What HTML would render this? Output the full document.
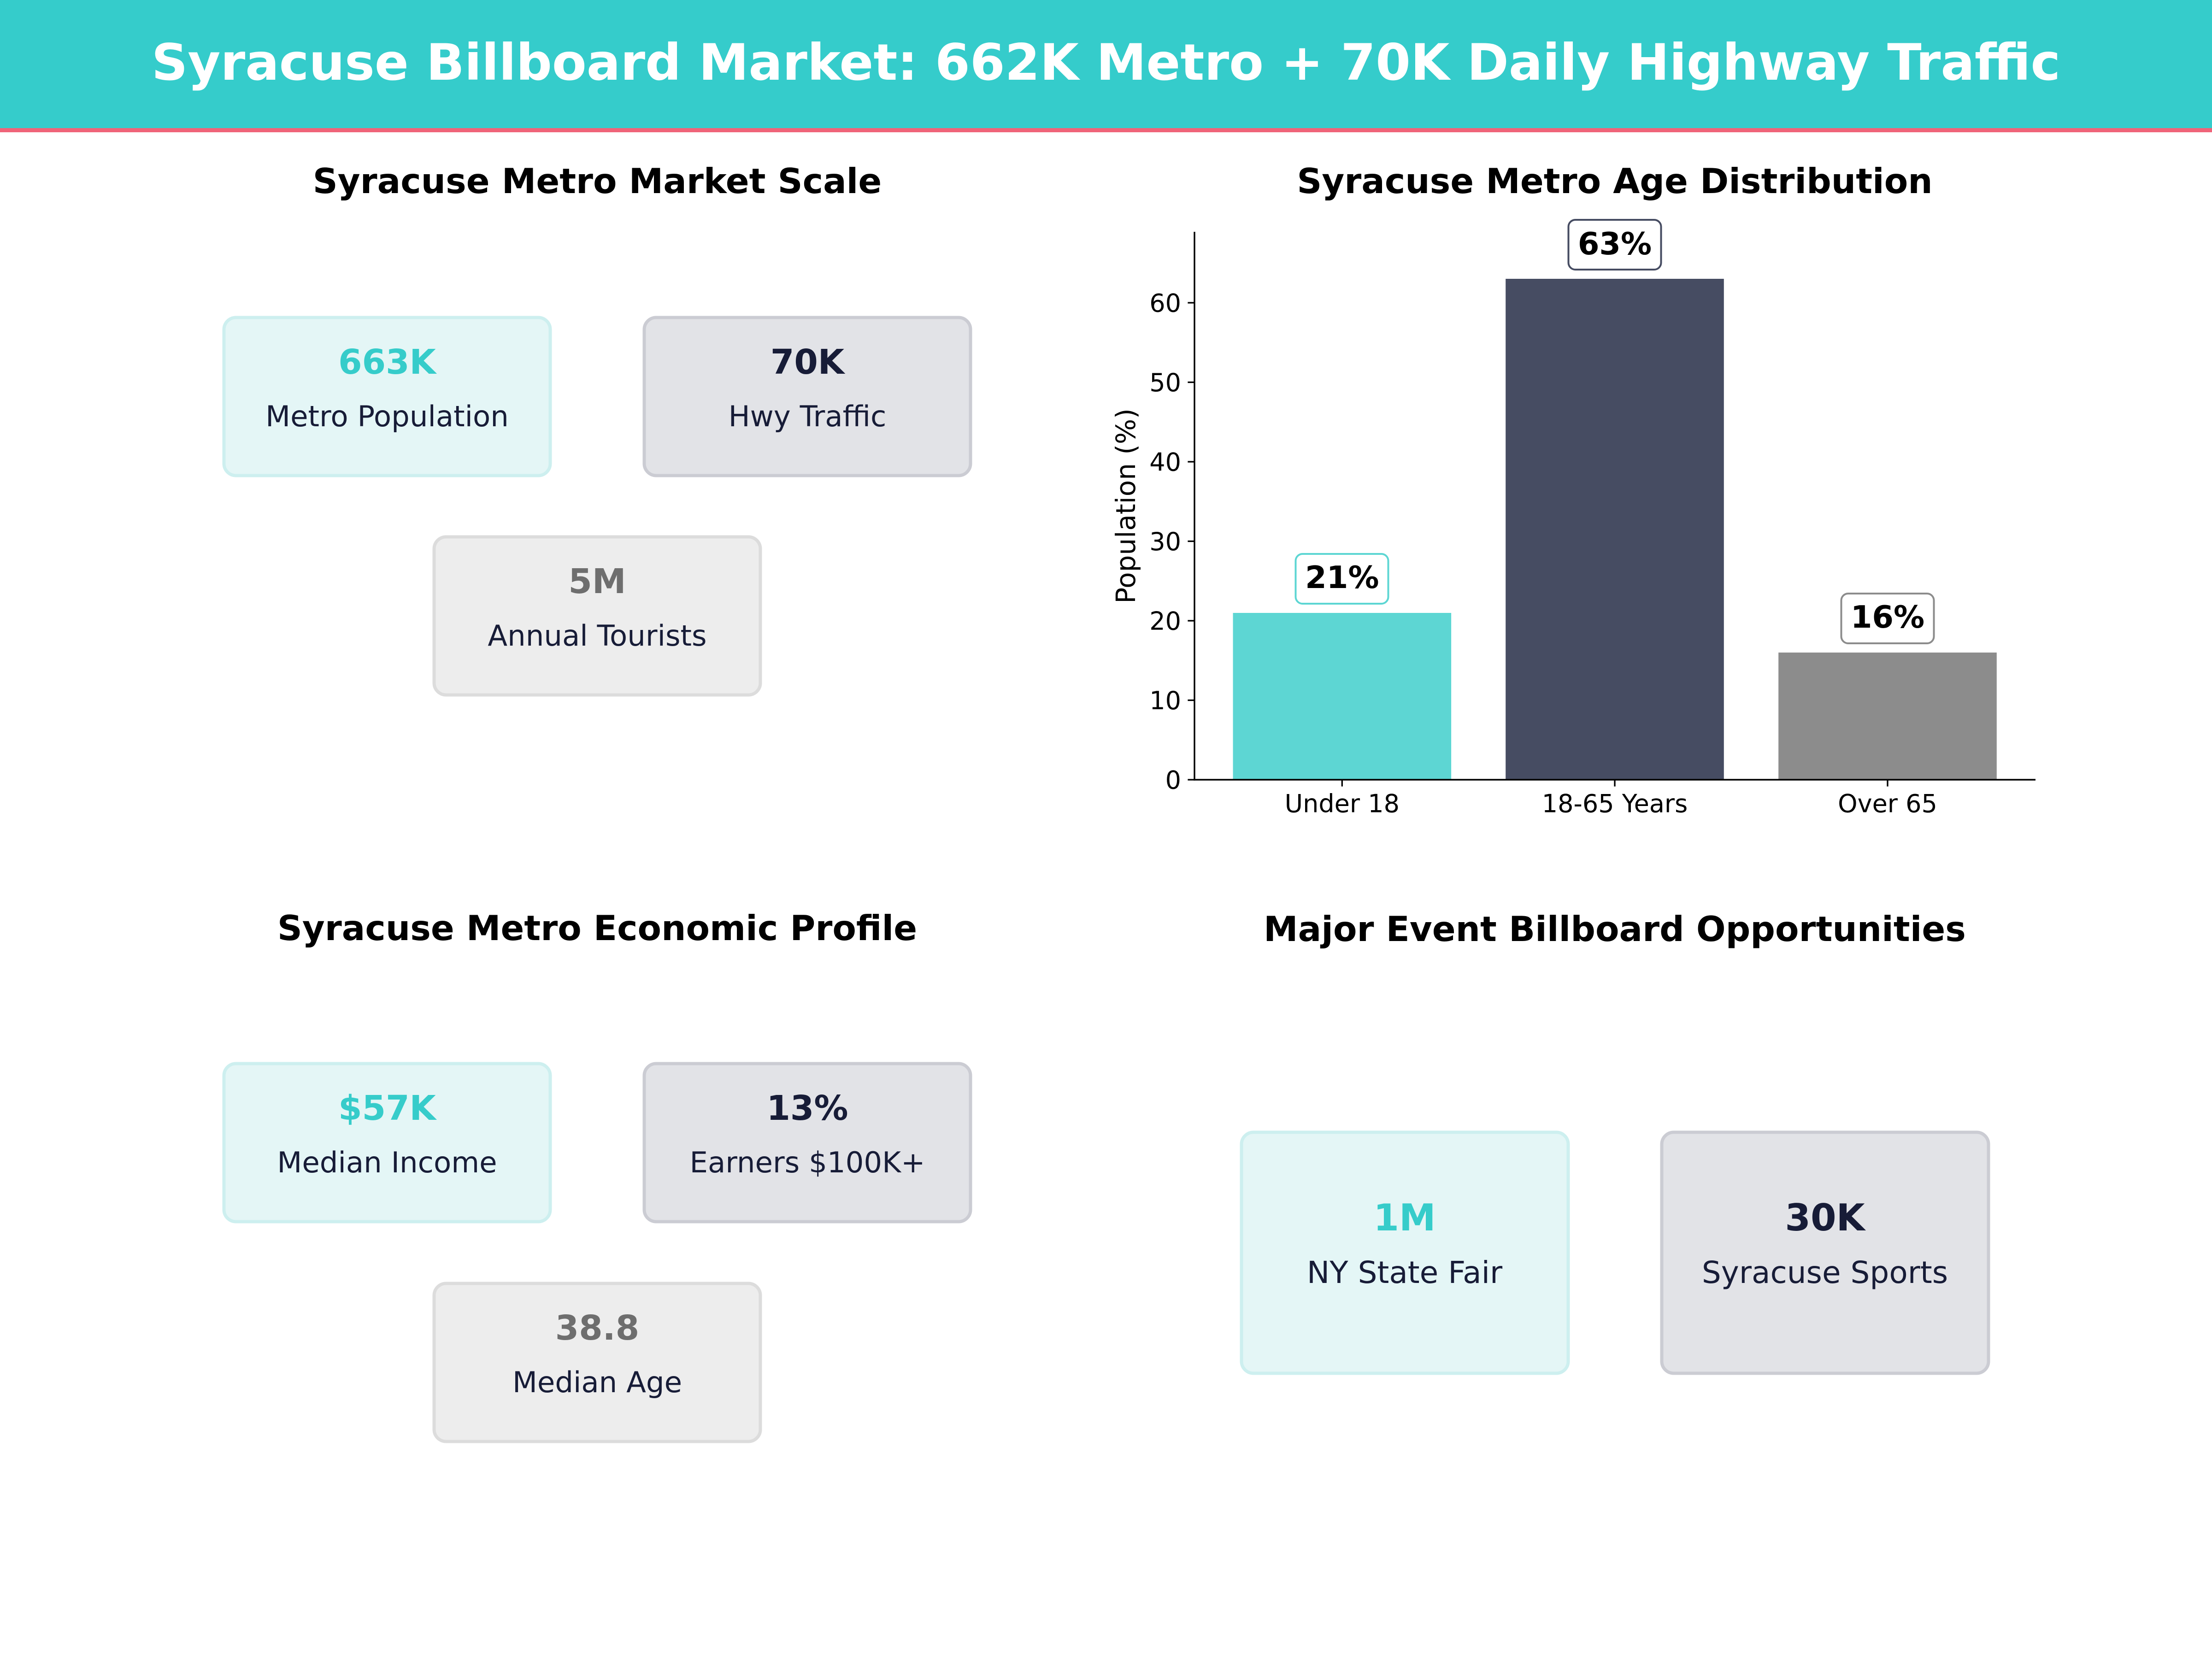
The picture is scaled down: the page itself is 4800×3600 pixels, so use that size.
<!DOCTYPE html>
<html>
<head>
<meta charset="utf-8">
<style>
  html, body { margin: 0; padding: 0; background: #ffffff; }
  body { width: 4800px; height: 3600px; overflow: hidden; }
  svg { display: block; }
  text { font-family: "DejaVu Sans", "Liberation Sans", sans-serif; }
</style>
</head>
<body>
<svg width="4800" height="3600" viewBox="0 0 4800 3600" xmlns="http://www.w3.org/2000/svg">
  <rect x="0" y="0" width="4800" height="3600" fill="#ffffff"/>

  <!-- Header -->
  <rect x="0" y="0" width="4800" height="279" fill="#35CCCB"/>
  <rect x="0" y="278" width="4800" height="9" fill="#EF6479"/>
  <text x="2400" y="173" text-anchor="middle" font-size="109" font-weight="bold" fill="#ffffff">Syracuse Billboard Market: 662K Metro + 70K Daily Highway Traffic</text>

  <!-- ===== Top-left: Market Scale ===== -->
  <text x="1296" y="419" text-anchor="middle" font-size="75" font-weight="bold" fill="#000000">Syracuse Metro Market Scale</text>

  <rect x="486" y="689" width="708" height="343" rx="26" fill="#E4F6F6" stroke="#CDEFEF" stroke-width="7"/>
  <text x="840" y="811" text-anchor="middle" font-size="74" font-weight="bold" fill="#36CCCA">663K</text>
  <text x="840" y="925" text-anchor="middle" font-size="62.5" fill="#171C37">Metro Population</text>

  <rect x="1398" y="689" width="708" height="343" rx="26" fill="#E2E3E7" stroke="#CBCCD3" stroke-width="7"/>
  <text x="1752" y="811" text-anchor="middle" font-size="74" font-weight="bold" fill="#171C37">70K</text>
  <text x="1752" y="925" text-anchor="middle" font-size="62.5" fill="#171C37">Hwy Traffic</text>

  <rect x="942" y="1165" width="708" height="343" rx="26" fill="#EDEDED" stroke="#DCDCDC" stroke-width="7"/>
  <text x="1296" y="1287" text-anchor="middle" font-size="74" font-weight="bold" fill="#6E6E6E">5M</text>
  <text x="1296" y="1401" text-anchor="middle" font-size="62.5" fill="#171C37">Annual Tourists</text>

  <!-- ===== Top-right: Age Distribution ===== -->
  <text x="3504" y="419" text-anchor="middle" font-size="75" font-weight="bold" fill="#000000">Syracuse Metro Age Distribution</text>

  <!-- bars -->
  <rect x="2675.5" y="1330" width="473.6" height="362" fill="#5DD6D3"/>
  <rect x="3267.2" y="605" width="473.6" height="1087" fill="#464C62"/>
  <rect x="3859.2" y="1416" width="473.6" height="276" fill="#8C8C8C"/>

  <!-- spines -->
  <line x1="2592" y1="503" x2="2592" y2="1693.6" stroke="#000" stroke-width="3.4"/>
  <line x1="2590.3" y1="1692" x2="4417" y2="1692" stroke="#000" stroke-width="3.4"/>

  <!-- ticks -->
  <g stroke="#000" stroke-width="3.3">
    <line x1="2577.4" y1="1692" x2="2592" y2="1692"/>
    <line x1="2577.4" y1="1519.5" x2="2592" y2="1519.5"/>
    <line x1="2577.4" y1="1347" x2="2592" y2="1347"/>
    <line x1="2577.4" y1="1174.5" x2="2592" y2="1174.5"/>
    <line x1="2577.4" y1="1002" x2="2592" y2="1002"/>
    <line x1="2577.4" y1="829.5" x2="2592" y2="829.5"/>
    <line x1="2577.4" y1="657" x2="2592" y2="657"/>
    <line x1="2912.3" y1="1692" x2="2912.3" y2="1706.6"/>
    <line x1="3504" y1="1692" x2="3504" y2="1706.6"/>
    <line x1="4096" y1="1692" x2="4096" y2="1706.6"/>
  </g>
  <g font-size="54" fill="#000" text-anchor="end">
    <text x="2563" y="1711.5">0</text>
    <text x="2563" y="1539">10</text>
    <text x="2563" y="1366.5">20</text>
    <text x="2563" y="1194">30</text>
    <text x="2563" y="1021.5">40</text>
    <text x="2563" y="849">50</text>
    <text x="2563" y="676.5">60</text>
  </g>
  <g font-size="54" fill="#000" text-anchor="middle">
    <text x="2912.3" y="1762.5">Under 18</text>
    <text x="3504" y="1762.5">18-65 Years</text>
    <text x="4096" y="1762.5">Over 65</text>
  </g>
  <text transform="translate(2463,1098) rotate(-90)" text-anchor="middle" font-size="58" fill="#000">Population (%)</text>

  <!-- value labels -->
  <rect x="2811.5" y="1202" width="201" height="108" rx="15" fill="#ffffff" stroke="#5DD6D3" stroke-width="4"/>
  <text x="2912.3" y="1276" text-anchor="middle" font-size="67" font-weight="bold" fill="#000">21%</text>

  <rect x="3403.5" y="477" width="201" height="108" rx="15" fill="#ffffff" stroke="#464C62" stroke-width="4"/>
  <text x="3504" y="552" text-anchor="middle" font-size="67" font-weight="bold" fill="#000">63%</text>

  <rect x="3995.5" y="1288" width="201" height="108" rx="15" fill="#ffffff" stroke="#8C8C8C" stroke-width="4"/>
  <text x="4096" y="1362" text-anchor="middle" font-size="67" font-weight="bold" fill="#000">16%</text>

  <!-- ===== Bottom-left: Economic Profile ===== -->
  <text x="1296" y="2040" text-anchor="middle" font-size="75" font-weight="bold" fill="#000000">Syracuse Metro Economic Profile</text>

  <rect x="486" y="2308" width="708" height="343" rx="26" fill="#E4F6F6" stroke="#CDEFEF" stroke-width="7"/>
  <text x="840" y="2430" text-anchor="middle" font-size="74" font-weight="bold" fill="#36CCCA">$57K</text>
  <text x="840" y="2544" text-anchor="middle" font-size="62.5" fill="#171C37">Median Income</text>

  <rect x="1398" y="2308" width="708" height="343" rx="26" fill="#E2E3E7" stroke="#CBCCD3" stroke-width="7"/>
  <text x="1752" y="2430" text-anchor="middle" font-size="74" font-weight="bold" fill="#171C37">13%</text>
  <text x="1752" y="2544" text-anchor="middle" font-size="62.5" fill="#171C37">Earners $100K+</text>

  <rect x="942" y="2785" width="708" height="343" rx="26" fill="#EDEDED" stroke="#DCDCDC" stroke-width="7"/>
  <text x="1296" y="2907" text-anchor="middle" font-size="74" font-weight="bold" fill="#6E6E6E">38.8</text>
  <text x="1296" y="3021" text-anchor="middle" font-size="62.5" fill="#171C37">Median Age</text>

  <!-- ===== Bottom-right: Events ===== -->
  <text x="3504" y="2042" text-anchor="middle" font-size="75" font-weight="bold" fill="#000000">Major Event Billboard Opportunities</text>

  <rect x="2694" y="2457" width="709" height="523" rx="26" fill="#E4F6F6" stroke="#CDEFEF" stroke-width="7"/>
  <text x="3048" y="2670" text-anchor="middle" font-size="80" font-weight="bold" fill="#36CCCA">1M</text>
  <text x="3048" y="2784" text-anchor="middle" font-size="66" fill="#171C37">NY State Fair</text>

  <rect x="3606" y="2457" width="709" height="523" rx="26" fill="#E2E3E7" stroke="#CBCCD3" stroke-width="7"/>
  <text x="3960" y="2670" text-anchor="middle" font-size="80" font-weight="bold" fill="#171C37">30K</text>
  <text x="3960" y="2784" text-anchor="middle" font-size="66" fill="#171C37">Syracuse Sports</text>
</svg>
</body>
</html>
